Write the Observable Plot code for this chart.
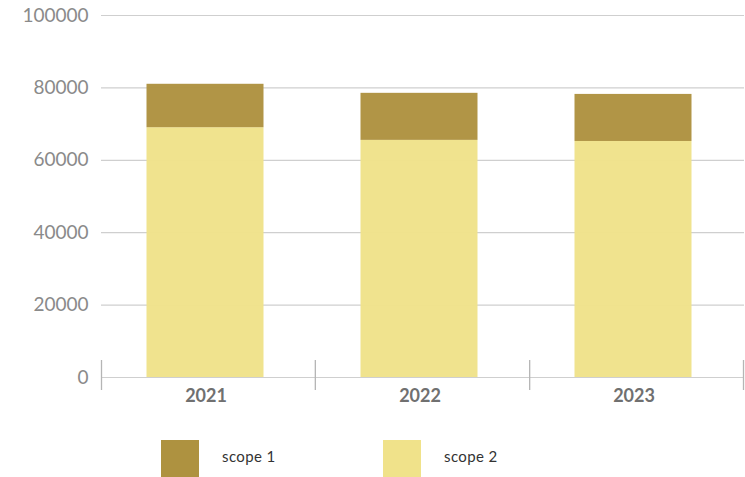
<!DOCTYPE html>
<html>
<head>
<meta charset="utf-8">
<script src="https://cdn.jsdelivr.net/npm/d3@7"></script>
<script src="https://cdn.jsdelivr.net/npm/@observablehq/plot@0.6"></script>
<style>
  html, body { margin: 0; padding: 0; background: #fff; }
  #chart { width: 745px; }
  .legend { position: relative; height: 57px; font-family: Lato, "Open Sans", sans-serif; font-size: 15px; color: #333; }
  .legend .sw { position: absolute; top: 20px; width: 38px; height: 37px; }
  .legend .lb { position: absolute; top: 27px; line-height: 18px; letter-spacing: 0.4px; }
</style>
</head>
<body>
<div id="chart"></div>
<script>
const years = ["2021", "2022", "2023"];
const seriesNames = ["scope 2", "scope 1"];
const scope1 = [12000, 13000, 13000];
const scope2 = [69000, 65500, 65200];
const yTicks = [0, 20000, 40000, 60000, 80000, 100000];
const colors = { "scope 1": "#ae9240", "scope 2": "#f0e28a" };

const rows = [];
years.forEach((y, i) => {
  rows.push({ year: y, series: "scope 2", value: scope2[i] });
  rows.push({ year: y, series: "scope 1", value: scope1[i] });
});

const W = 745, H = 420, ML = 101, MR = 1, MT = 15, MB = 43;
const pad = 0.453;

function separators(index, scales, values, dims) {
  const g = d3.create("svg:g");
  const step = (dims.width - dims.marginLeft - dims.marginRight) / years.length;
  const y0 = dims.height - dims.marginBottom;
  for (let i = 0; i <= years.length; i++) {
    const x = dims.marginLeft + i * step - (i === years.length ? 0.5 : 0) + (i === 0 ? 0.5 : 0);
    g.append("line").attr("x1", x).attr("x2", x).attr("y1", y0 - 17).attr("y2", y0 + 13)
      .attr("stroke", "#b5b5b5").attr("stroke-width", 1.3);
  }
  return g.node();
}

const chart = Plot.plot({
  width: W, height: H,
  marginLeft: ML, marginRight: MR, marginTop: MT, marginBottom: MB,
  style: { fontFamily: "Lato, 'Open Sans', sans-serif", background: "#fff" },
  x: { domain: years, paddingInner: pad, paddingOuter: pad / 2, label: null, axis: null },
  y: { domain: [0, 100000], label: null, axis: null },
  color: { domain: seriesNames, range: seriesNames.map(s => colors[s]) },
  marks: [
    Plot.ruleY(yTicks, { stroke: "#cfcfcf", strokeWidth: 1.2 }),
    Plot.barY(rows, { x: "year", y: "value", fill: "series", order: seriesNames, dx: -3.5, fillOpacity: 0.97 }),
    Plot.axisY(yTicks, { tickSize: 0, tickPadding: 13, fontSize: 19, fill: "#8a8a8a", tickFormat: d => String(d), label: null }),
    Plot.axisX(years, { tickSize: 0, tickPadding: 12, fontSize: 18, fontWeight: "bold", fill: "#707070", label: null, dx: -3 }),
    separators
  ]
});
document.getElementById("chart").appendChild(chart);

const legend = d3.select("body").append("div").attr("class", "legend");
const legendX = [161, 383];
["scope 1", "scope 2"].forEach((s, i) => {
  legend.append("div").attr("class", "sw").style("left", legendX[i] + "px").style("background", colors[s]);
  legend.append("div").attr("class", "lb").style("left", (legendX[i] + 61) + "px").text(s);
});
</script>
</body>
</html>
